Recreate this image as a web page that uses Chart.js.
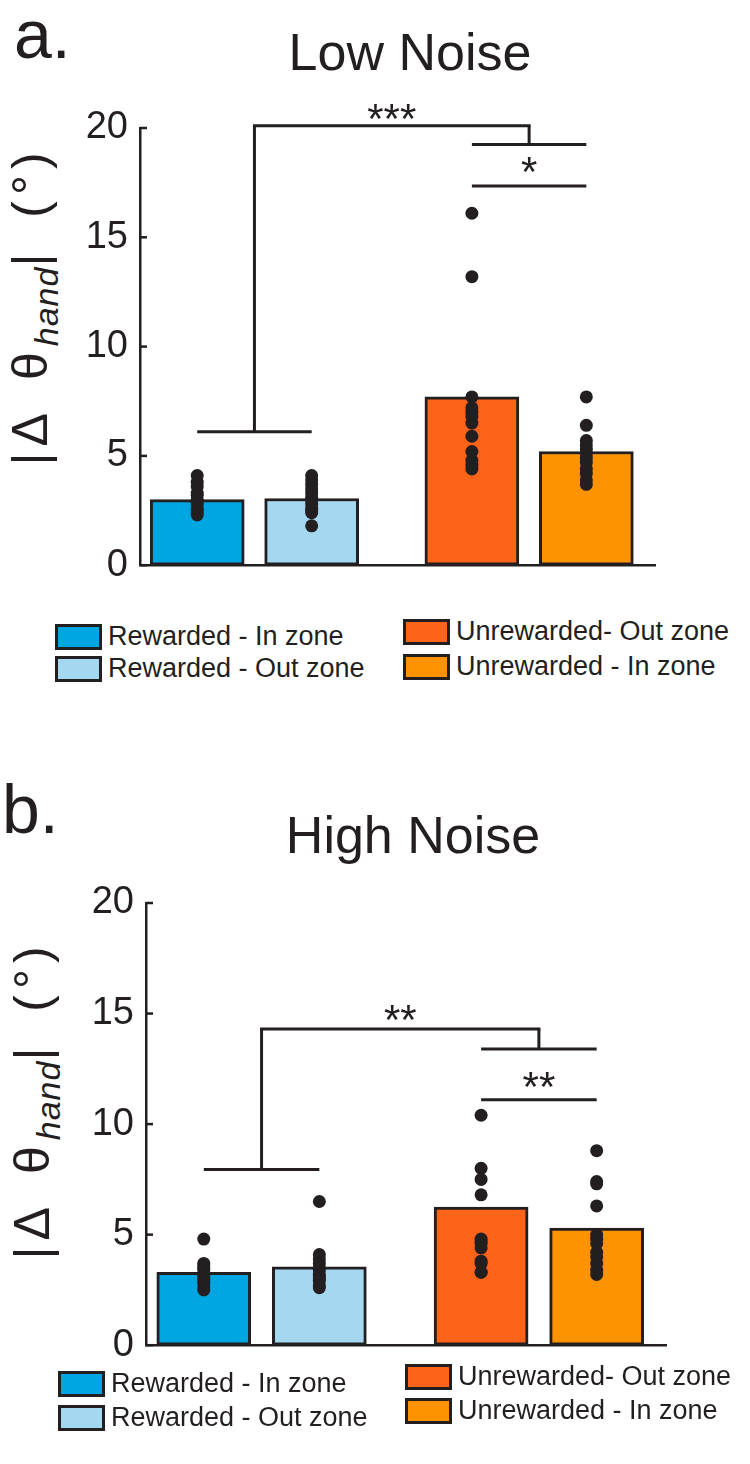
<!DOCTYPE html>
<html>
<head>
    <title>Low / High Noise</title>
    <style>
        body {
            margin: 0;
            background: #fff;
            font-family: "Liberation Sans", Arial, sans-serif;
            color: #231f20;
        }

        #page {
            position: relative;
            width: 750px;
            height: 1464px;
            overflow: hidden;
        }

        .abs {
            position: absolute;
            line-height: 1;
            white-space: nowrap;
        }

        .panel { font-size: 68px; }
        .title { font-size: 52px; transform: translateX(-50%); }

        .ytitle {
            font-size: 50px;
            letter-spacing: 6px;
            word-spacing: 10px;
            transform: translate(-50%, -50%) rotate(-90deg);
        }
        .ytitle sub {
            font-style: italic;
            font-size: 34px;
            letter-spacing: 1px;
            vertical-align: -11px;
        }

        .item {
            display: flex;
            align-items: center;
            font-size: 27px;
        }
        .swatch {
            width: 41px;
            height: 20px;
            border: 3px solid #231f20;
            margin-right: 6px;
        }

        canvas { position: absolute; left: 0; }
    </style>
</head>
<body>
<div id="page">
    <div class="abs panel" style="left:14px; top:0px;">a.</div>
    <div class="abs title" style="left:410px; top:26px;">Low Noise</div>
    <div class="abs ytitle" style="left:34px; top:306px;">|Δ θ<sub>hand</sub>| (°)</div>
    <canvas id="lowChart" width="750" height="600" style="top:0px;"></canvas>
    <div id="lowLegend"></div>

    <div class="abs panel" style="left:2px; top:775px;">b.</div>
    <div class="abs title" style="left:413px; top:809px;">High Noise</div>
    <div class="abs ytitle" style="left:36px; top:1100px;">|Δ θ<sub>hand</sub>| (°)</div>
    <canvas id="highChart" width="750" height="600" style="top:780px;"></canvas>
    <div id="highLegend"></div>
</div>

<script src="https://cdn.jsdelivr.net/npm/chart.js"></script>
<script>
    // groups, in the order they sit on the axis
    var categories = ['Rewarded - In zone', 'Rewarded - Out zone', 'Unrewarded- Out zone', 'Unrewarded - In zone'];
    var positions = [1, 2, 3.4, 4.4];
    var barColors = ['#00a6e2', '#a4d8f1', '#fe6419', '#fe9302'];
    var yTicks = [0, 5, 10, 15, 20];

    // Low noise
    var lowMeans = [3.0, 3.05, 7.7, 5.2];
    var lowInZone = [4.1, 3.8, 3.6, 3.3, 3.2, 3.0, 2.9, 2.8, 2.6, 2.5, 2.4, 2.3];
    var lowOutZone = [4.1, 3.9, 3.7, 3.5, 3.3, 3.1, 3.0, 2.8, 2.6, 2.5, 2.4, 1.8];
    var lowUnrewOut = [16.1, 13.2, 7.7, 7.2, 7.0, 6.8, 6.5, 5.9, 5.2, 4.8, 4.6, 4.4];
    var lowUnrewIn = [7.7, 6.4, 5.7, 5.5, 5.3, 5.1, 4.9, 4.7, 4.4, 4.2, 3.9, 3.7];
    var lowBrackets = [6.1, 20.1, 19.25, 17.35];   // group line, top line, right group, pair line
    var lowStars = ['***', '*'];
    var lowStarLevels = [20.7, 18.25];

    // High noise
    var highMeans = [3.3, 3.55, 6.25, 5.3];
    var highInZone = [4.8, 3.7, 3.6, 3.5, 3.4, 3.2, 3.1, 3.0, 2.9, 2.8, 2.6, 2.5];
    var highOutZone = [6.5, 4.1, 3.9, 3.7, 3.5, 3.4, 3.2, 3.1, 3.0, 2.9, 2.7, 2.6];
    var highUnrewOut = [10.4, 8.0, 7.5, 6.8, 4.8, 4.7, 4.6, 4.4, 3.8, 3.7, 3.3, 3.3];
    var highUnrewIn = [8.8, 7.4, 7.3, 6.3, 5.0, 4.8, 4.6, 4.2, 4.0, 3.7, 3.4, 3.2];
    var highBrackets = [7.95, 14.3, 13.4, 11.1];
    var highStars = ['**', '**'];
    var highStarLevels = [15.0, 11.95];

    var ink = '#231f20';
    var font = '"Liberation Sans", Arial, sans-serif';

    // brackets, stars and the inward tick marks
    var sigPlugin = {
        id: 'sig',
        afterDatasetsDraw: function(chart, args, opts) {
            var xs = chart.scales.x, ys = chart.scales.y, c = chart.ctx;
            function X(v) { return xs.getPixelForValue(v); }
            function Y(v) { return ys.getPixelForValue(v); }
            function seg(x1, y1, x2, y2) {
                c.beginPath();
                c.moveTo(X(x1), Y(y1));
                c.lineTo(X(x2), Y(y2));
                c.stroke();
            }
            var b = opts.brackets;
            var midL = (positions[0] + positions[1]) / 2;
            var midR = (positions[2] + positions[3]) / 2;

            c.save();
            c.strokeStyle = ink;
            c.lineWidth = 3;
            seg(positions[0], b[0], positions[1], b[0]);
            seg(midL, b[0], midL, b[1]);
            seg(midL - 0.013, b[1], midR + 0.013, b[1]);
            seg(midR, b[1], midR, b[2]);
            seg(positions[2], b[2], positions[3], b[2]);
            seg(positions[2], b[3], positions[3], b[3]);

            // tick marks point into the plot
            c.lineWidth = 2.5;
            ys.ticks.forEach(function(t) {
                var py = ys.getPixelForValue(t.value);
                c.beginPath();
                c.moveTo(xs.left, py);
                c.lineTo(xs.left + 7, py);
                c.stroke();
            });

            c.fillStyle = ink;
            c.font = '42px ' + font;
            c.textAlign = 'center';
            c.textBaseline = 'alphabetic';
            c.fillText(opts.stars[0], (X(midL) + X(midR)) / 2, Y(opts.starLevels[0]) + 20);
            c.fillText(opts.stars[1], X(midR), Y(opts.starLevels[1]) + 20);
            c.restore();
        }
    };

    function makeChart(id, means, groups, brackets, stars, starLevels, pad, axisWidth) {
        var dots = [];
        groups.forEach(function(vals, i) {
            vals.forEach(function(v) { dots.push({x: positions[i], y: v}); });
        });
        var bars = means.map(function(v, i) { return {x: positions[i], y: v}; });

        return new Chart(document.getElementById(id).getContext('2d'), {
            type: 'bar',
            data: {
                datasets: [{
                    type: 'scatter',
                    data: dots,
                    pointRadius: 6.5,
                    pointBackgroundColor: ink,
                    pointBorderWidth: 0,
                    order: 0
                }, {
                    type: 'bar',
                    label: 'mean',
                    data: bars,
                    backgroundColor: barColors,
                    borderColor: ink,
                    borderWidth: 3,
                    borderSkipped: false,
                    barThickness: 94,
                    order: 1
                }]
            },
            options: {
                responsive: false,
                animation: false,
                layout: { padding: pad },
                plugins: {
                    legend: { display: false },
                    tooltip: { enabled: false },
                    sig: { brackets: brackets, stars: stars, starLevels: starLevels }
                },
                scales: {
                    x: {
                        type: 'linear',
                        min: 0.5,
                        max: 5.0,
                        offset: false,
                        grid: { display: false, drawTicks: false, offset: false },
                        ticks: { display: false },
                        border: { display: true, color: ink, width: 2.5 },
                        afterFit: function(s) { s.height = 0; }
                    },
                    y: {
                        min: 0,
                        max: 20,
                        afterBuildTicks: function(s) {
                            s.ticks = yTicks.map(function(v) { return {value: v}; });
                        },
                        grid: { display: false, drawTicks: false },
                        border: { display: true, color: ink, width: 2.5 },
                        ticks: {
                            color: ink,
                            padding: 12,
                            font: { family: font, size: 38 }
                        },
                        afterFit: function(s) { s.width = axisWidth; }
                    }
                }
            },
            plugins: [sigPlugin]
        });
    }

    makeChart('lowChart', lowMeans, [lowInZone, lowOutZone, lowUnrewOut, lowUnrewIn],
        lowBrackets, lowStars, lowStarLevels, {top: 128, bottom: 17, left: 0, right: 95}, 140);
    makeChart('highChart', highMeans, [highInZone, highOutZone, highUnrewOut, highUnrewIn],
        highBrackets, highStars, highStarLevels, {top: 123, bottom: 20, left: 0, right: 84}, 146);

    // legends, two columns each
    function buildLegend(id, spots) {
        var box = document.getElementById(id);
        categories.forEach(function(name, i) {
            var item = document.createElement('div');
            item.className = 'abs item';
            item.style.left = spots[i][0] + 'px';
            item.style.top = spots[i][1] + 'px';
            var sw = document.createElement('div');
            sw.className = 'swatch';
            sw.style.background = barColors[i];
            var label = document.createElement('span');
            label.textContent = name;
            item.appendChild(sw);
            item.appendChild(label);
            box.appendChild(item);
        });
    }

    buildLegend('lowLegend', [[55, 623], [55, 655], [403, 618], [403, 653]]);
    buildLegend('highLegend', [[58, 1370], [58, 1404], [405, 1363], [405, 1397]]);
</script>
</body>
</html>
